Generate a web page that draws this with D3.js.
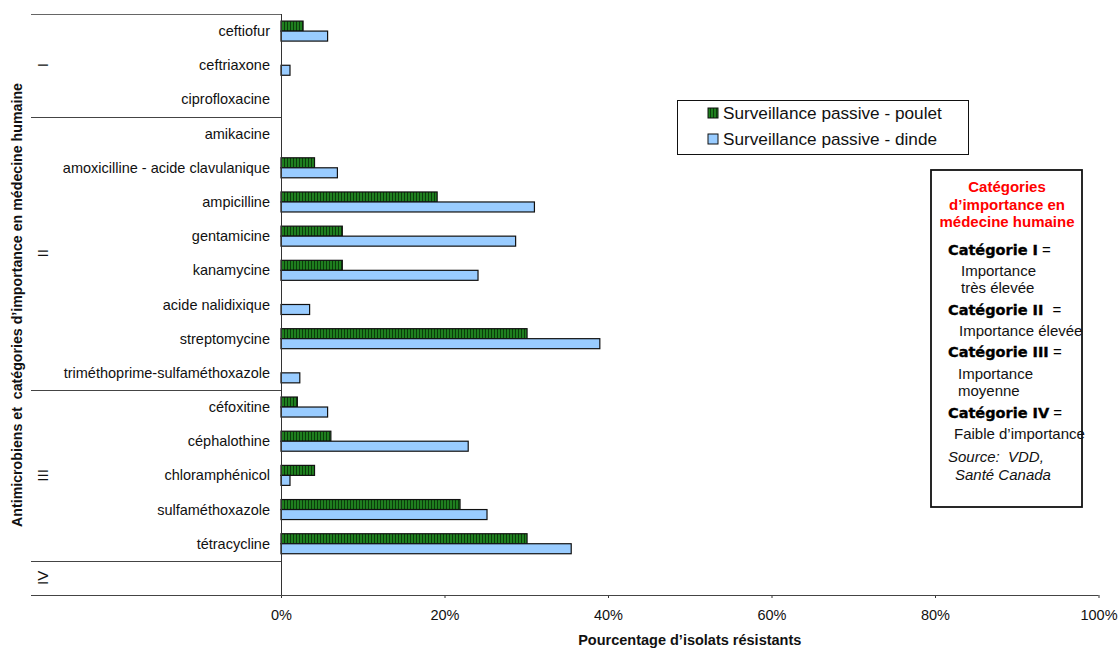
<!DOCTYPE html>
<html>
<head>
<meta charset="utf-8">
<script src="https://cdn.jsdelivr.net/npm/d3@7"></script>
<style>
  html, body { margin: 0; padding: 0; background: #fff; }
  svg { display: block; font-family: "Liberation Sans", Arial, sans-serif; }
</style>
</head>
<body>
<svg id="chart" width="1119" height="648"></svg>
<script>
// Antimicrobials, in display order, with their importance category
const antimicrobials = [
  "ceftiofur", "ceftriaxone", "ciprofloxacine",
  "amikacine", "amoxicilline - acide clavulanique", "ampicilline", "gentamicine",
  "kanamycine", "acide nalidixique", "streptomycine", "triméthoprime-sulfaméthoxazole",
  "céfoxitine", "céphalothine", "chloramphénicol", "sulfaméthoxazole", "tétracycline"
];
const categoryOf = [
  "I", "I", "I",
  "II", "II", "II", "II", "II", "II", "II", "II",
  "III", "III", "III", "III", "III"
];
const categories = ["I", "II", "III", "IV"];

// Percentage of resistant isolates (null = no bar)
const poulet = [2.7, null, null, null, 4.1, 19.1, 7.5, 7.5, null, 30.1, null, 2.0, 6.1, 4.1, 21.9, 30.1];
const dinde  = [5.7, 1.1, null, null, 6.9, 31.0, 28.7, 24.1, 3.5, 39.0, 2.3, 5.7, 22.9, 1.1, 25.2, 35.5];

const xTicks = [0, 20, 40, 60, 80, 100];
const seriesNames = ["Surveillance passive - poulet", "Surveillance passive - dinde"];

const svg = d3.select("#chart");
const defs = svg.append("defs");

// vertical stripe fill for the chicken series
const pat = defs.append("pattern")
  .attr("id", "stripes").attr("patternUnits", "userSpaceOnUse")
  .attr("width", 3).attr("height", 10);
pat.append("rect").attr("width", 3).attr("height", 10).attr("fill", "#1f7f1f");
pat.append("rect").attr("x", 2).attr("width", 1).attr("height", 10).attr("fill", "#0b3d0b");

const plotLeft = 281, plotRight = 1098.5, plotTop = 14, plotBottom = 595, labelLeft = 31;

// rows: each antimicrobial, plus one blank row for a category with no members
const rows = [];
categories.forEach(c => {
  const members = antimicrobials.filter((a, i) => categoryOf[i] === c);
  if (members.length) members.forEach(m => rows.push(m));
  else rows.push("__" + c);
});

const x = d3.scaleLinear().domain([0, 100]).range([plotLeft, plotRight]);
const y = d3.scaleBand().domain(rows).range([plotTop, plotBottom]);
const barH = 10;

// category separators and roman numerals
const sepColor = "#444";
svg.append("line").attr("x1", labelLeft).attr("x2", plotLeft).attr("y1", plotTop + 0.5).attr("y2", plotTop + 0.5)
  .attr("stroke", "#666").attr("stroke-width", 1.2);
categories.forEach(c => {
  const r = rows.filter(k => k.startsWith("__") ? k === "__" + c : categoryOf[antimicrobials.indexOf(k)] === c);
  const y0 = y(r[0]), y1 = y(r[r.length - 1]) + y.bandwidth();
  svg.append("line").attr("x1", labelLeft).attr("x2", plotLeft)
    .attr("y1", Math.round(y1) + 0.5).attr("y2", Math.round(y1) + 0.5)
    .attr("stroke", sepColor).attr("stroke-width", 1);
  svg.append("text")
    .attr("transform", `translate(47.5,${(y0 + y1) / 2}) rotate(-90)`)
    .attr("text-anchor", "middle").attr("font-size", 15).attr("fill", "#111")
    .text(c);
});

// antimicrobial labels
svg.append("g").selectAll("text").data(antimicrobials).join("text")
  .attr("x", 270).attr("y", d => y(d) + y.bandwidth() / 2 + 5)
  .attr("text-anchor", "end").attr("font-size", 14.5).attr("fill", "#111")
  .text(d => d);

// bars
const gBars = svg.append("g");
antimicrobials.forEach((a, i) => {
  const cy = y(a) + y.bandwidth() / 2;
  if (poulet[i] != null) {
    gBars.append("rect").attr("x", x(0)).attr("y", cy - barH)
      .attr("width", x(poulet[i]) - x(0)).attr("height", barH)
      .attr("fill", "url(#stripes)").attr("stroke", "#111").attr("stroke-width", 1.2);
  }
  if (dinde[i] != null) {
    gBars.append("rect").attr("x", x(0)).attr("y", cy)
      .attr("width", x(dinde[i]) - x(0)).attr("height", barH)
      .attr("fill", "#99ccff").attr("stroke", "#111").attr("stroke-width", 1.2);
  }
});

// axes
svg.append("line").attr("x1", plotLeft + 0.5).attr("x2", plotLeft + 0.5).attr("y1", plotTop).attr("y2", plotBottom)
  .attr("stroke", "#333").attr("stroke-width", 1);
const xAxis = d3.axisBottom(x).tickValues(xTicks).tickFormat(d => d + "%").tickSize(3).tickPadding(12);
const gx = svg.append("g").attr("transform", `translate(0,${plotBottom})`).call(xAxis);
gx.select(".domain").remove();
gx.append("line").attr("x1", labelLeft).attr("x2", plotRight).attr("y1", 0.5).attr("y2", 0.5)
  .attr("stroke", "#444").attr("stroke-width", 1.2);
gx.selectAll(".tick line").attr("stroke", "#333");
gx.selectAll(".tick text").attr("font-size", 14.5).attr("fill", "#111")
  .attr("font-family", "Liberation Sans, Arial, sans-serif");

// axis titles
svg.append("text").attr("x", (plotLeft + plotRight) / 2).attr("y", 645)
  .attr("text-anchor", "middle").attr("font-size", 14.5).attr("font-weight", "bold").attr("fill", "#111")
  .text("Pourcentage d’isolats résistants");
svg.append("text").attr("transform", `translate(22,305) rotate(-90)`)
  .attr("text-anchor", "middle").attr("font-size", 14.2).attr("font-weight", "bold").attr("fill", "#111")
  .attr("xml:space", "preserve")
  .text("Antimicrobiens et  catégories d’importance en médecine humaine");

// legend
const lg = svg.append("g");
lg.append("rect").attr("x", 677.5).attr("y", 100.5).attr("width", 291).attr("height", 54)
  .attr("fill", "#fff").attr("stroke", "#111").attr("stroke-width", 1);
const fills = ["url(#stripes)", "#99ccff"];
seriesNames.forEach((s, i) => {
  const yy = 108 + i * 26;
  lg.append("rect").attr("x", 708).attr("y", yy).attr("width", 10).attr("height", 10)
    .attr("fill", fills[i]).attr("stroke", "#111").attr("stroke-width", 1);
  lg.append("text").attr("x", 723).attr("y", yy + 11).attr("font-size", 17.2).attr("fill", "#111").text(s);
});

// category definitions box
const box = svg.append("g");
box.append("rect").attr("x", 931).attr("y", 170).attr("width", 151).attr("height", 337)
  .attr("fill", "#fff").attr("stroke", "#111").attr("stroke-width", 1.8);
["Catégories", "d’importance en", "médecine humaine"].forEach((t, i) => {
  box.append("text").attr("x", 1007).attr("y", 192 + i * 17.5).attr("text-anchor", "middle")
    .attr("font-size", 15).attr("font-weight", "bold").attr("fill", "#ff0000").text(t);
});
const defsList = [
  { head: "Catégorie I", yh: 255, lines: [["Importance", 961, 276], ["très élevée", 961, 293]] },
  { head: "Catégorie II ", yh: 315, lines: [["Importance élevée", 959, 336]] },
  { head: "Catégorie III", yh: 357, lines: [["Importance", 958, 379], ["moyenne", 958, 396]] },
  { head: "Catégorie IV", yh: 418, lines: [["Faible d’importance", 954, 439]] }
];
defsList.forEach(d => {
  const t = box.append("text").attr("x", 948).attr("y", d.yh).attr("font-size", 15).attr("fill", "#000")
    .attr("xml:space", "preserve");
  t.append("tspan").attr("font-family", "DejaVu Sans").attr("font-weight", "bold")
    .attr("font-size", 14.5).attr("stroke", "#000").attr("stroke-width", 0.35).text(d.head);
  t.append("tspan").text(" =");
  d.lines.forEach(l => {
    box.append("text").attr("x", l[1]).attr("y", l[2]).attr("font-size", 15).attr("fill", "#111").text(l[0]);
  });
});
box.append("text").attr("x", 948).attr("y", 462).attr("font-size", 15).attr("font-style", "italic")
  .attr("fill", "#111").attr("xml:space", "preserve").text("Source:  VDD,");
box.append("text").attr("x", 955).attr("y", 480).attr("font-size", 15).attr("font-style", "italic")
  .attr("fill", "#111").text("Santé Canada");
</script>
</body>
</html>
